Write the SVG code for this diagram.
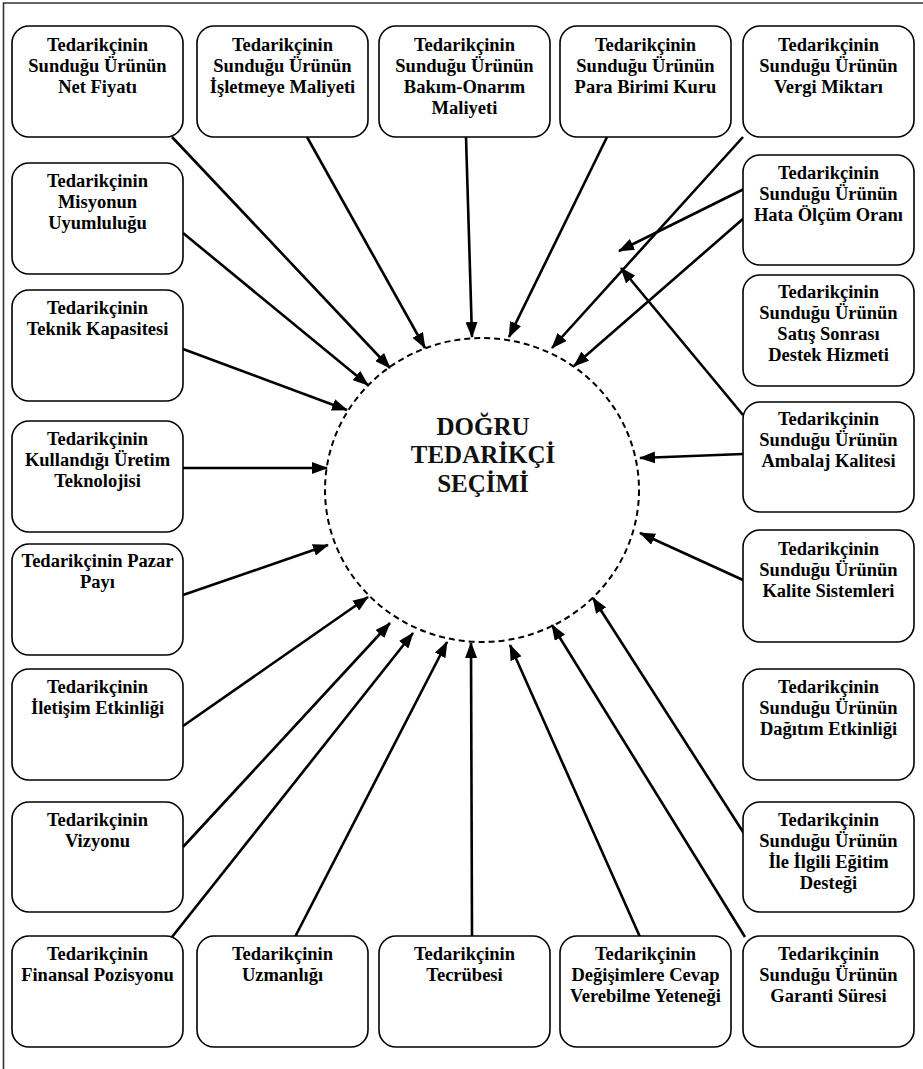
<svg xmlns="http://www.w3.org/2000/svg" width="923" height="1069" viewBox="0 0 923 1069">
<style>
.box{fill:#fff;stroke:#000;stroke-width:1.6}
.t{font-family:"Liberation Serif","Times New Roman",serif;font-weight:bold;font-size:18.5px;text-anchor:middle;fill:#000}
.c{font-family:"Liberation Serif","Times New Roman",serif;font-weight:bold;font-size:25px;text-anchor:middle;fill:#111}
.ln{stroke:#000;stroke-width:2.6;fill:none;marker-end:url(#ah)}
</style>
<defs>
<marker id="ah" markerUnits="userSpaceOnUse" markerWidth="16" markerHeight="12" refX="15" refY="6" orient="auto">
<path d="M0,0 L16,6 L0,12 z" fill="#000"/>
</marker>
</defs>
<rect width="923" height="1069" fill="#fff"/>
<path d="M3.5,1069 V3 H923" fill="none" stroke="#333" stroke-width="1.6"/>

<g id="center">
<ellipse cx="482" cy="490" rx="157" ry="152" fill="none" stroke="#000" stroke-width="2" stroke-dasharray="6,4"/>
<text class="c" x="483" y="435">DOĞRU</text>
<text class="c" x="483" y="463">TEDARİKÇİ</text>
<text class="c" x="483" y="492">SEÇİMİ</text>
</g>

<g id="connectors">
<line class="ln" x1="172" y1="137" x2="390" y2="368"/>
<line class="ln" x1="307" y1="137" x2="425" y2="348"/>
<line class="ln" x1="466" y1="137" x2="472" y2="337"/>
<line class="ln" x1="607" y1="137" x2="509" y2="337"/>
<line class="ln" x1="743" y1="137" x2="552" y2="348"/>
<line class="ln" x1="744" y1="189" x2="619" y2="251"/>
<line class="ln" x1="744" y1="218" x2="574" y2="366"/>
<line class="ln" x1="743" y1="415" x2="621" y2="268"/>
<line class="ln" x1="743" y1="454" x2="640" y2="458"/>
<line class="ln" x1="743" y1="580" x2="640" y2="533"/>
<line class="ln" x1="745" y1="835" x2="593" y2="598"/>
<line class="ln" x1="745" y1="937" x2="552" y2="625"/>
<line class="ln" x1="640" y1="937" x2="510" y2="645"/>
<line class="ln" x1="472" y1="936" x2="471" y2="643"/>
<line class="ln" x1="295" y1="937" x2="447" y2="642"/>
<line class="ln" x1="172" y1="937" x2="413" y2="633"/>
<line class="ln" x1="183" y1="847" x2="390" y2="623"/>
<line class="ln" x1="183" y1="726" x2="368" y2="597"/>
<line class="ln" x1="183" y1="595" x2="328" y2="545"/>
<line class="ln" x1="183" y1="468" x2="327" y2="468"/>
<line class="ln" x1="183" y1="349" x2="347" y2="410"/>
<line class="ln" x1="183" y1="233" x2="368" y2="385"/>
</g>

<g id="n1"><rect class="box" x="12" y="26" width="171" height="111" rx="17"/>
<text class="t" x="97.5" y="51">Tedarikçinin</text><text class="t" x="97.5" y="72">Sunduğu Ürünün</text><text class="t" x="97.5" y="93">Net Fiyatı</text></g>
<g id="n2"><rect class="box" x="197" y="26" width="171" height="111" rx="17"/>
<text class="t" x="282.5" y="51">Tedarikçinin</text><text class="t" x="282.5" y="72">Sunduğu Ürünün</text><text class="t" x="282.5" y="93">İşletmeye Maliyeti</text></g>
<g id="n3"><rect class="box" x="379" y="26" width="171" height="111" rx="17"/>
<text class="t" x="464.5" y="51">Tedarikçinin</text><text class="t" x="464.5" y="72">Sunduğu Ürünün</text><text class="t" x="464.5" y="93">Bakım-Onarım</text><text class="t" x="464.5" y="114">Maliyeti</text></g>
<g id="n4"><rect class="box" x="560" y="26" width="171" height="111" rx="17"/>
<text class="t" x="645.5" y="51">Tedarikçinin</text><text class="t" x="645.5" y="72">Sunduğu Ürünün</text><text class="t" x="645.5" y="93">Para Birimi Kuru</text></g>
<g id="n5"><rect class="box" x="743" y="26" width="171" height="111" rx="17"/>
<text class="t" x="828.5" y="51">Tedarikçinin</text><text class="t" x="828.5" y="72">Sunduğu Ürünün</text><text class="t" x="828.5" y="93">Vergi Miktarı</text></g>

<g id="n6"><rect class="box" x="12" y="163" width="171" height="111" rx="17"/>
<text class="t" x="97.5" y="187">Tedarikçinin</text><text class="t" x="97.5" y="208">Misyonun</text><text class="t" x="97.5" y="229">Uyumluluğu</text></g>
<g id="n7"><rect class="box" x="12" y="290" width="171" height="111" rx="17"/>
<text class="t" x="97.5" y="314">Tedarikçinin</text><text class="t" x="97.5" y="335">Teknik Kapasitesi</text></g>
<g id="n8"><rect class="box" x="12" y="421" width="171" height="111" rx="17"/>
<text class="t" x="97.5" y="445">Tedarikçinin</text><text class="t" x="97.5" y="466">Kullandığı Üretim</text><text class="t" x="97.5" y="487">Teknolojisi</text></g>
<g id="n9"><rect class="box" x="12" y="544" width="171" height="111" rx="17"/>
<text class="t" x="97.5" y="567">Tedarikçinin Pazar</text><text class="t" x="97.5" y="588">Payı</text></g>
<g id="n10"><rect class="box" x="12" y="669" width="171" height="111" rx="17"/>
<text class="t" x="97.5" y="693">Tedarikçinin</text><text class="t" x="97.5" y="714">İletişim Etkinliği</text></g>
<g id="n11"><rect class="box" x="12" y="802" width="171" height="110" rx="17"/>
<text class="t" x="97.5" y="826">Tedarikçinin</text><text class="t" x="97.5" y="847">Vizyonu</text></g>

<g id="n12"><rect class="box" x="12" y="936" width="171" height="111" rx="17"/>
<text class="t" x="97.5" y="960">Tedarikçinin</text><text class="t" x="97.5" y="981">Finansal Pozisyonu</text></g>
<g id="n13"><rect class="box" x="197" y="936" width="171" height="111" rx="17"/>
<text class="t" x="282.5" y="960">Tedarikçinin</text><text class="t" x="282.5" y="981">Uzmanlığı</text></g>
<g id="n14"><rect class="box" x="379" y="936" width="171" height="111" rx="17"/>
<text class="t" x="464.5" y="960">Tedarikçinin</text><text class="t" x="464.5" y="981">Tecrübesi</text></g>
<g id="n15"><rect class="box" x="560" y="936" width="171" height="111" rx="17"/>
<text class="t" x="645.5" y="960">Tedarikçinin</text><text class="t" x="645.5" y="981">Değişimlere Cevap</text><text class="t" x="645.5" y="1002">Verebilme Yeteneği</text></g>
<g id="n16"><rect class="box" x="743" y="936" width="171" height="111" rx="17"/>
<text class="t" x="828.5" y="960">Tedarikçinin</text><text class="t" x="828.5" y="981">Sunduğu Ürünün</text><text class="t" x="828.5" y="1002">Garanti Süresi</text></g>

<g id="n17"><rect class="box" x="743" y="155" width="171" height="110" rx="17"/>
<text class="t" x="828.5" y="179">Tedarikçinin</text><text class="t" x="828.5" y="200">Sunduğu Ürünün</text><text class="t" x="828.5" y="221">Hata Ölçüm Oranı</text></g>
<g id="n18"><rect class="box" x="743" y="275" width="171" height="111" rx="17"/>
<text class="t" x="828.5" y="298">Tedarikçinin</text><text class="t" x="828.5" y="319">Sunduğu Ürünün</text><text class="t" x="828.5" y="340">Satış Sonrası</text><text class="t" x="828.5" y="361">Destek Hizmeti</text></g>
<g id="n19"><rect class="box" x="743" y="402" width="171" height="110" rx="17"/>
<text class="t" x="828.5" y="425">Tedarikçinin</text><text class="t" x="828.5" y="446">Sunduğu Ürünün</text><text class="t" x="828.5" y="467">Ambalaj Kalitesi</text></g>
<g id="n20"><rect class="box" x="743" y="530" width="171" height="112" rx="17"/>
<text class="t" x="828.5" y="555">Tedarikçinin</text><text class="t" x="828.5" y="576">Sunduğu Ürünün</text><text class="t" x="828.5" y="597">Kalite Sistemleri</text></g>
<g id="n21"><rect class="box" x="743" y="669" width="171" height="111" rx="17"/>
<text class="t" x="828.5" y="693">Tedarikçinin</text><text class="t" x="828.5" y="714">Sunduğu Ürünün</text><text class="t" x="828.5" y="735">Dağıtım Etkinliği</text></g>
<g id="n22"><rect class="box" x="743" y="802" width="171" height="110" rx="17"/>
<text class="t" x="828.5" y="826">Tedarikçinin</text><text class="t" x="828.5" y="847">Sunduğu Ürünün</text><text class="t" x="828.5" y="868">İle İlgili Eğitim</text><text class="t" x="828.5" y="889">Desteği</text></g>
</svg>
